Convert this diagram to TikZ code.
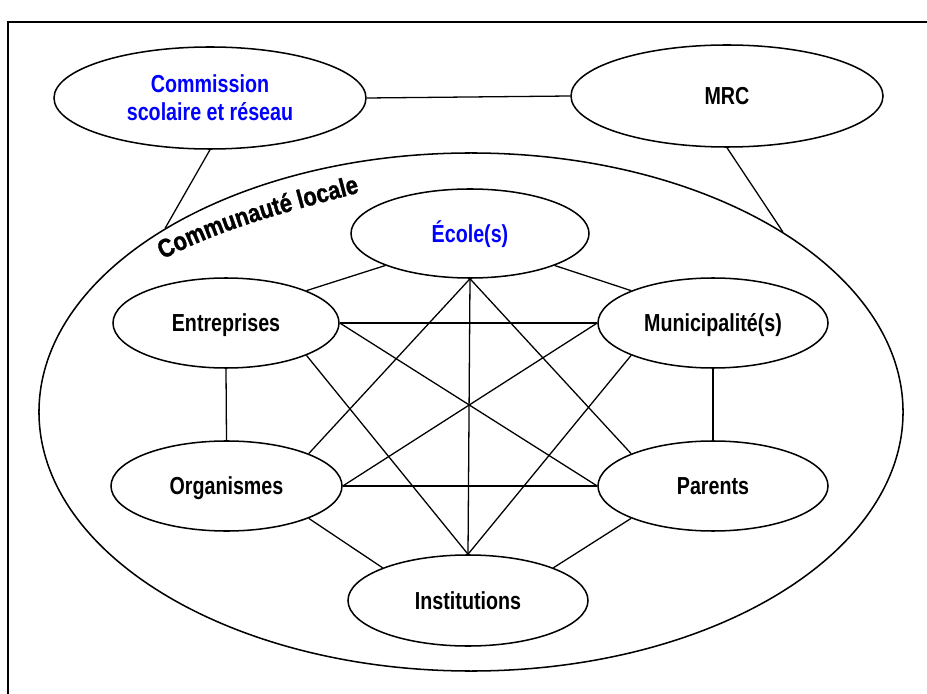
\documentclass[tikz,border=0pt]{standalone}
\usepackage{fontspec}
\setmainfont{Liberation Sans}[FakeStretch=0.8]
\newfontfamily\arcfont{Liberation Sans}[FakeStretch=0.85,FakeBold=1.2]
\usetikzlibrary{shapes.geometric,decorations.text}
\begin{document}
\begin{tikzpicture}[x=0.03cm,y=0.03cm,
  oval/.style={ellipse, draw, line width=1.3pt, inner sep=0pt, align=center,
    font=\fontsize{21}{24}\selectfont\bfseries},
  oneline/.style={text height=15.3pt, text depth=0pt},
  small/.style={minimum width=6.9cm, minimum height=2.7cm},
  link/.style={line width=1.1pt}]
\useasboundingbox (0,0) rectangle (927,693);
\clip (0,0) rectangle (927,693);
% frame
\draw[line width=1.5pt] (8,-10) -- (8,671) -- (940,671);
% top level
\node[oval, text=blue, minimum width=9.36cm, minimum height=3.06cm] (com) at (210,595) {Commission\\scolaire et réseau};
\node[oval, oneline, minimum width=9.36cm, minimum height=3.06cm] (mrc) at (727,597) {MRC};
% community
\node[oval, minimum width=25.92cm, minimum height=15.54cm] (comm) at (471,281) {};
\coordinate (arcA) at (158,431);
\coordinate (arcB) at (365,502);
\path[decorate, decoration={text along path, text align=center,
  text={|\arcfont\fontsize{22}{24}\selectfont\bfseries|Communauté locale}}]
  (arcA) .. controls (225,467) and (295,483) .. (arcB);
% inner nodes
\node[oval, oneline, text=blue, minimum width=7.14cm, minimum height=2.67cm] (eco) at (470,459.5) {École(s)};
\node[oval, oneline, small, minimum width=6.78cm] (ent) at (226,370) {Entreprises};
\node[oval, oneline, small] (mun) at (713,370) {Municipalité(s)};
\node[oval, oneline, small, minimum width=6.93cm] (org) at (226.5,207) {Organismes};
\node[oval, oneline, small] (par) at (713,207) {Parents};
\node[oval, oneline, minimum width=7.2cm, minimum height=2.73cm] (ins) at (468,92.5) {Institutions};
% connectors
\draw[link] (com.east) -- (mrc.west);
\draw[link] (com.south) -- (comm.149.1);
\draw[link] (mrc.south) -- (comm.30.3);
\draw[link] (eco.south west) -- (ent.north east);
\draw[link] (eco.south east) -- (mun.north west);
\draw[link] (eco.south) -- (org.north east);
\draw[link] (eco.south) -- (par.north west);
\draw[link] (eco.south) -- (ins.north);
\draw[link] (ent.east) -- (mun.west);
\draw[link] (ent.east) -- (par.west);
\draw[link] (ent.south) -- (org.north);
\draw[link] (ent.south east) -- (ins.north);
\draw[link] (mun.west) -- (org.east);
\draw[link] (mun.south) -- (par.north);
\draw[link] (mun.south west) -- (ins.north);
\draw[link] (org.east) -- (par.west);
\draw[link] (org.south east) -- (ins.north west);
\draw[link] (par.south west) -- (ins.north east);
\end{tikzpicture}
\end{document}
